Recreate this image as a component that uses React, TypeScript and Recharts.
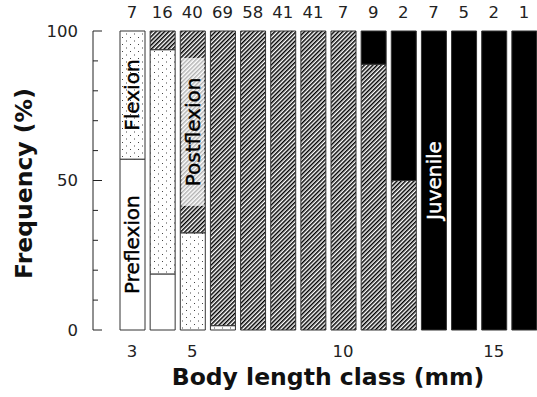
import { Bar, BarChart, Label, LabelList, XAxis, YAxis } from "recharts";

// counts of larvae per developmental stage, by body length class (mm)
const CLASSES = [3, 4, 5, 6, 7, 8, 9, 10, 11, 12, 13, 14, 15, 16];
const PREFLEXION = [4, 3, 0, 0, 0, 0, 0, 0, 0, 0, 0, 0, 0, 0];
const FLEXION = [3, 12, 13, 1, 0, 0, 0, 0, 0, 0, 0, 0, 0, 0];
const POSTFLEXION = [0, 1, 27, 68, 58, 41, 41, 7, 8, 1, 0, 0, 0, 0];
const JUVENILE = [0, 0, 0, 0, 0, 0, 0, 0, 1, 1, 7, 5, 2, 1];

const X_TICKS = [3, 5, 10, 15];
const Y_TICKS = [0, 10, 20, 30, 40, 50, 60, 70, 80, 90, 100];
const Y_LABELED = [0, 50, 100];

const FONT = "'DejaVu Sans', Verdana, sans-serif";
const INK = "#222";

const data = CLASSES.map((cls, i) => {
  const n = PREFLEXION[i] + FLEXION[i] + POSTFLEXION[i] + JUVENILE[i];
  return {
    cls,
    n,
    pre: (PREFLEXION[i] / n) * 100,
    flex: (FLEXION[i] / n) * 100,
    post: (POSTFLEXION[i] / n) * 100,
    juv: (JUVENILE[i] / n) * 100,
  };
});

const totalOf = (cls: number) => data.find((d) => d.cls === cls)?.n ?? "";

// y ticks point inward, long ones carry a label
const YTick = (props: any) => {
  const { x, y, payload } = props;
  const major = Y_LABELED.includes(payload.value);
  return (
    <g>
      <line x1={x} x2={x + (major ? 9 : 5)} y1={y} y2={y} stroke={INK} strokeWidth={1} />
      {major && (
        <text x={x - 15} y={y} textAnchor="end" dominantBaseline="central" fontSize={16.5} fill={INK} fontFamily={FONT}>
          {payload.value}
        </text>
      )}
    </g>
  );
};

// rotated stage name inside the segment of one length class
const stageLabel = (text: string, cls: number, color: string, backdrop = false) => (props: any) => {
  if (props.value !== cls) return null;
  const vb = props.viewBox ?? props;
  const cx = vb.x + vb.width / 2;
  const cy = vb.y + vb.height / 2;
  const boxH = text.length * 10 + 38;
  return (
    <g>
      {backdrop && (
        <rect x={vb.x + 1} y={cy - boxH / 2} width={vb.width - 2} height={boxH} fill="#fff" fillOpacity={0.7} />
      )}
      <text
        x={cx}
        y={cy}
        transform={`rotate(-90, ${cx}, ${cy})`}
        textAnchor="middle"
        dominantBaseline="central"
        fontSize={20}
        fill={color}
        stroke={color}
        strokeWidth={0.4}
        fontFamily={FONT}
      >
        {text}
      </text>
    </g>
  );
};

const xTitle = (props: any) => {
  const vb = props.viewBox;
  const cx = vb.x + 24 + (vb.width - 24) / 2;
  return (
    <text x={cx} y={vb.y + 55} textAnchor="middle" fontSize={23.5} fontWeight="bold" fill="#111" fontFamily={FONT}>
      Body length class (mm)
    </text>
  );
};

const yTitle = (props: any) => {
  const vb = props.viewBox;
  const cx = 24;
  const cy = vb.y + vb.height / 2 + 3;
  return (
    <text
      x={cx}
      y={cy}
      transform={`rotate(-90, ${cx}, ${cy})`}
      textAnchor="middle"
      dominantBaseline="central"
      fontSize={23.5}
      fontWeight="bold"
      fill="#111"
      fontFamily={FONT}
    >
      Frequency (%)
    </text>
  );
};

export default function App() {
  return (
    <div style={{ position: "absolute", left: 0, top: 0, width: 537, height: 397, overflow: "hidden", background: "#fff" }}>
      <BarChart width={539} height={397} data={data} margin={{ top: 0, right: 0, bottom: 0, left: 0 }} barSize={25}>
        <defs>
          <pattern id="hatch" patternUnits="userSpaceOnUse" width={3} height={3} patternTransform="rotate(45)">
            <rect width={3} height={3} fill="#fff" />
            <line x1={0.75} y1={0} x2={0.75} y2={3} stroke="#000" strokeWidth={1.5} />
          </pattern>
          <pattern id="dots" patternUnits="userSpaceOnUse" width={8} height={7}>
            <rect width={8} height={7} fill="#fff" />
            <rect x={2} y={2} width={1} height={1} fill="#444" />
            <rect x={6} y={5.5} width={1} height={1} fill="#444" />
          </pattern>
        </defs>

        <XAxis
          xAxisId="top"
          orientation="top"
          dataKey="cls"
          height={31}
          padding={{ left: 24, right: 0 }}
          axisLine={false}
          tickLine={false}
          tickSize={0}
          tickMargin={13}
          interval={0}
          tickFormatter={(v) => String(totalOf(v))}
          tick={{ fontSize: 16.5, fill: INK, fontFamily: FONT }}
        />
        <XAxis
          dataKey="cls"
          height={67}
          padding={{ left: 24, right: 0 }}
          axisLine={false}
          tickLine={false}
          tickSize={0}
          tickMargin={15}
          interval={0}
          tickFormatter={(v) => (X_TICKS.includes(v) ? String(v) : "")}
          tick={{ fontSize: 16.5, fill: INK, fontFamily: FONT }}
        >
          <Label content={xTitle} />
        </XAxis>
        <YAxis
          width={93}
          domain={[0, 100]}
          ticks={Y_TICKS}
          interval={0}
          tickSize={0}
          tickMargin={0}
          tickLine={false}
          axisLine={{ stroke: INK }}
          tick={(p: any) => <YTick {...p} />}
        >
          <Label content={yTitle} />
        </YAxis>

        <Bar dataKey="pre" stackId="s" fill="#fff" stroke="#333" isAnimationActive={false}>
          <LabelList dataKey="cls" content={stageLabel("Preflexion", 3, "#000")} />
        </Bar>
        <Bar dataKey="flex" stackId="s" fill="url(#dots)" stroke="#333" isAnimationActive={false}>
          <LabelList dataKey="cls" content={stageLabel("Flexion", 3, "#000")} />
        </Bar>
        <Bar dataKey="post" stackId="s" fill="url(#hatch)" stroke="#333" isAnimationActive={false}>
          <LabelList dataKey="cls" content={stageLabel("Postflexion", 5, "#000", true)} />
        </Bar>
        <Bar dataKey="juv" stackId="s" fill="#000" stroke="#333" isAnimationActive={false}>
          <LabelList dataKey="cls" content={stageLabel("Juvenile", 13, "#fff")} />
        </Bar>
      </BarChart>
    </div>
  );
}
